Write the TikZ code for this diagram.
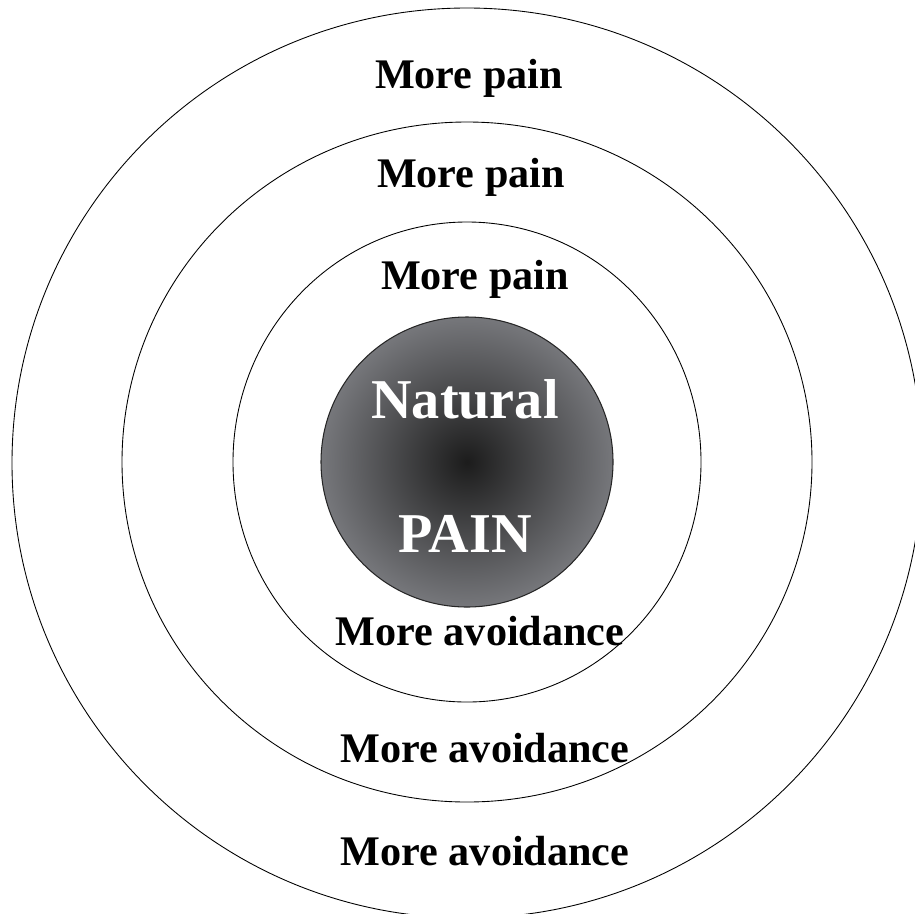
\documentclass[tikz,border=0pt]{standalone}
\usepackage{fontspec}
\setmainfont{Liberation Serif}
\usepackage{xcolor}
\usepackage{tikz}
\usetikzlibrary{calc, positioning}

\definecolor{coreedge}{RGB}{118,119,123}
\definecolor{corecentre}{RGB}{28,28,28}

\begin{document}
\begin{tikzpicture}[
    x=0.02cm, y=-0.02cm,
    ring/.style={draw=black, line width=0.5pt},
    core/.style={draw=black!85, line width=0.6pt, inner color=corecentre, outer color=coreedge},
    lbl/.style={font=\fontsize{24}{28}\selectfont\bfseries, anchor=base, inner sep=0pt},
    corelbl/.style={font=\fontsize{32}{36}\selectfont\bfseries, text=white, anchor=base, inner sep=0pt}
]
    \useasboundingbox (0,0) rectangle (915,913);
    \clip (0,0) rectangle (915,913);
    \fill[white] (0,0) rectangle (915,913);

    % Rings (outer to inner)
    \draw [ring] (467,463) ellipse [x radius=455, y radius=455];
    \draw [ring] (467,462) ellipse [x radius=345, y radius=340];
    \draw [ring] (467,462) ellipse [x radius=234, y radius=240];

    % Centre: shaded core
    \path [core] (467,462) ellipse [x radius=146, y radius=145];
    \node (natural) at (465,418) [corelbl] {Natural};
    \node (painlbl) at (465,552) [corelbl] {PAIN};

    % Upper labels: more pain
    \node (pain1) at (469,88) [lbl] {More pain};
    \node (pain2) at (471,187) [lbl] {More pain};
    \node (pain3) at (475,289) [lbl] {More pain};

    % Lower labels: more avoidance
    \node (avoid1) at (480,645) [lbl] {More avoidance};
    \node (avoid2) at (485,762) [lbl] {More avoidance};
    \node (avoid3) at (485,865) [lbl] {More avoidance};

\end{tikzpicture}
\end{document}
